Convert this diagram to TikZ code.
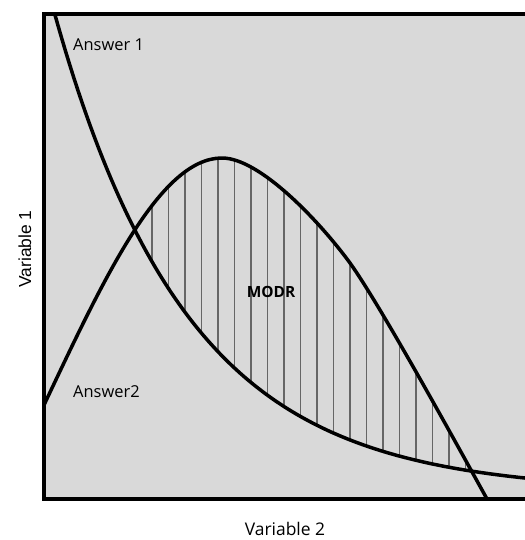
\documentclass[tikz,border=0pt]{standalone}
\usepackage{fontspec}
\newfontfamily\lblfont{Open Sans}
\newfontfamily\arialfont{Liberation Sans}
\definecolor{panelgray}{HTML}{D9D9D9}
\definecolor{hatchgray}{HTML}{666666}
\tikzset{
  curveline/.style={line width=3.5bp, black, line cap=round, line join=round},
  hatchline/.style={line width=1.2bp, hatchgray},
  frameline/.style={line width=4bp, black},
  lbl/.style={inner sep=0pt, font=\lblfont\fontsize{16.5}{18}\selectfont, anchor=west},
}
\def\answertwo{(44,405) .. controls (104,278) and (160,158) .. (222,158)
  .. controls (260,158) and (320,222) .. (350,263)
  .. controls (380,305) and (450,432) .. (487,499)}
\begin{document}
\begin{tikzpicture}[x=1bp, y=-1bp]
\useasboundingbox (0,0) rectangle (525,540);
% panel
\fill[panelgray] (44,14) rectangle (525,499);
% hatching between curves
\begin{scope}
  \clip (44,499) -- \answertwo -- cycle;
  \clip plot[domain=48:530, samples=120] (\x, {492-477*exp(-0.0075*(\x-55))}) -- (530,0) -- (48,0) -- cycle;
  \foreach \hx in {152,168.5,...,470} {
    \draw[hatchline] (\hx,100) -- (\hx,499);
  }
\end{scope}
% curves
\begin{scope}
  \clip (44,14) rectangle (525,499);
  \draw[curveline] plot[domain=50:530, samples=120] (\x, {492-477*exp(-0.0075*(\x-55))});
  \draw[curveline] \answertwo;
\end{scope}
% frame
\draw[frameline] (525,14) -- (44,14) -- (44,499) -- (525,499);
% labels
\node[lbl] (ans1) at (73,45) {Answer 1};
\node[lbl] (ans2) at (73,392) {Answer2};
\node[lbl, anchor=center, font=\lblfont\bfseries\fontsize{15.5}{17}\selectfont] (modr) at (271,292) {MODR};
\node[lbl, anchor=center, font=\lblfont\fontsize{17.5}{19}\selectfont] (var2) at (285,529) {Variable 2};
\node[inner sep=0pt, rotate=90, font=\arialfont\fontsize{17.5}{19}\selectfont] (var1) at (25,249) {Variable 1};
\end{tikzpicture}
\end{document}
